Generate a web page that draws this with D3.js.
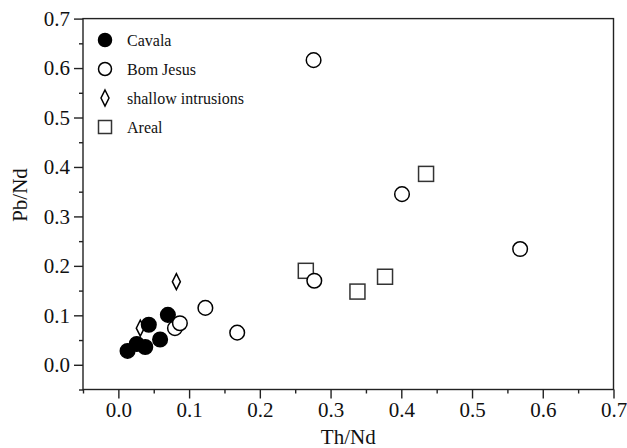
<!DOCTYPE html>
<html>
<head>
<meta charset="utf-8">
<script src="https://cdn.jsdelivr.net/npm/d3@7"></script>
<style>
  html, body { margin: 0; padding: 0; background: #fff; }
  svg { display: block; font-family: "Liberation Serif", "Times New Roman", serif; }
</style>
</head>
<body>
<svg id="chart" width="627" height="448"></svg>
<script>
// Th/Nd vs Pb/Nd ratios by group
const cavalaTh = [0.013, 0.026, 0.038, 0.043, 0.059, 0.070];
const cavalaPb = [0.028, 0.042, 0.036, 0.081, 0.051, 0.101];

const bomJesusTh = [0.276, 0.401, 0.568, 0.277, 0.168, 0.123, 0.080, 0.087];
const bomJesusPb = [0.616, 0.345, 0.234, 0.170, 0.065, 0.115, 0.074, 0.084];

const shallowTh = [0.082, 0.031];
const shallowPb = [0.168, 0.074];

const arealTh = [0.435, 0.265, 0.377, 0.338];
const arealPb = [0.386, 0.190, 0.178, 0.148];

const xTicks = [0.0, 0.1, 0.2, 0.3, 0.4, 0.5, 0.6, 0.7];
const yTicks = [0.0, 0.1, 0.2, 0.3, 0.4, 0.5, 0.6, 0.7];
const xMinor = [-0.05, 0.05, 0.15, 0.25, 0.35, 0.45, 0.55, 0.65];
const yMinor = [-0.05, 0.05, 0.15, 0.25, 0.35, 0.45, 0.55, 0.65];

const legendNames = ["Cavala", "Bom Jesus", "shallow intrusions", "Areal"];

const svg = d3.select("#chart");
const mLeft = 83, mRight = 613.5, mTop = 18.6, mBottom = 389.5;

const x = d3.scaleLinear().domain([-0.05, 0.7]).range([mLeft, mRight]);
const y = d3.scaleLinear().domain([-0.05, 0.7]).range([mBottom, mTop]);

const zip = (a, b) => a.map((v, i) => [v, b[i]]);

// frame
svg.append("rect")
  .attr("x", mLeft).attr("y", mTop)
  .attr("width", mRight - mLeft).attr("height", mBottom - mTop)
  .attr("fill", "none").attr("stroke", "#222").attr("stroke-width", 1.4);

// bottom axis
svg.append("g").attr("transform", `translate(0,${mBottom})`)
  .call(d3.axisBottom(x).tickValues(xTicks).tickFormat(d3.format(".1f"))
    .tickSize(9).tickPadding(4));
svg.append("g").attr("transform", `translate(0,${mBottom})`)
  .call(d3.axisBottom(x).tickValues(xMinor).tickFormat("").tickSize(4));

// left axis
svg.append("g").attr("transform", `translate(${mLeft},0)`)
  .call(d3.axisLeft(y).tickValues(yTicks).tickFormat(d3.format(".1f"))
    .tickSize(9).tickPadding(4));
svg.append("g").attr("transform", `translate(${mLeft},0)`)
  .call(d3.axisLeft(y).tickValues(yMinor).tickFormat("").tickSize(4));

svg.selectAll(".domain").remove();
svg.selectAll(".tick line").attr("stroke", "#222").attr("stroke-width", 1.4);
svg.selectAll(".tick text")
  .attr("font-family", "Liberation Serif, Times New Roman, serif")
  .attr("font-size", 21).attr("fill", "#111");

// axis titles
svg.append("text")
  .attr("x", (mLeft + mRight) / 2).attr("y", 444)
  .attr("text-anchor", "middle").attr("font-size", 21).attr("fill", "#111")
  .text("Th/Nd");
svg.append("text")
  .attr("transform", "translate(27,195) rotate(-90)")
  .attr("text-anchor", "middle").attr("font-size", 21).attr("fill", "#111")
  .text("Pb/Nd");

const plot = svg.append("g");

// symbol drawers
function diamond(g, cx, cy, w, h) {
  g.append("path")
    .attr("d", `M${cx},${cy - h / 2}L${cx + w / 2},${cy}L${cx},${cy + h / 2}L${cx - w / 2},${cy}Z`)
    .attr("fill", "#fff").attr("stroke", "#000").attr("stroke-width", 1.5);
}
function square(g, cx, cy, s) {
  g.append("rect")
    .attr("x", cx - s / 2).attr("y", cy - s / 2).attr("width", s).attr("height", s)
    .attr("fill", "#fff").attr("stroke", "#333").attr("stroke-width", 1.5);
}
function circle(g, cx, cy, r, filled) {
  g.append("circle")
    .attr("cx", cx).attr("cy", cy).attr("r", r)
    .attr("fill", filled ? "#000" : "#fff")
    .attr("stroke", "#000").attr("stroke-width", 1.5);
}

// draw order: shallow intrusions, Cavala, Areal, Bom Jesus
zip(shallowTh, shallowPb).forEach(([a, b]) => diamond(plot, x(a), y(b), 8, 16));
zip(cavalaTh, cavalaPb).forEach(([a, b]) => circle(plot, x(a), y(b), 7.3, true));
zip(arealTh, arealPb).forEach(([a, b]) => square(plot, x(a), y(b), 15));
zip(bomJesusTh, bomJesusPb).forEach(([a, b]) => circle(plot, x(a), y(b), 7.3, false));

// legend
const leg = svg.append("g");
const legY0 = 40, legStep = 29, legSymX = 105, legTextX = 127;
legendNames.forEach((name, i) => {
  const cy = legY0 + i * legStep;
  if (i === 0) circle(leg, legSymX, cy, 6.5, true);
  if (i === 1) circle(leg, legSymX, cy, 6.5, false);
  if (i === 2) diamond(leg, legSymX, cy, 8, 16);
  if (i === 3) square(leg, legSymX, cy, 13);
  leg.append("text")
    .attr("x", legTextX).attr("y", cy + 5.5)
    .attr("font-size", 16).attr("fill", "#111")
    .text(name);
});
</script>
</body>
</html>
